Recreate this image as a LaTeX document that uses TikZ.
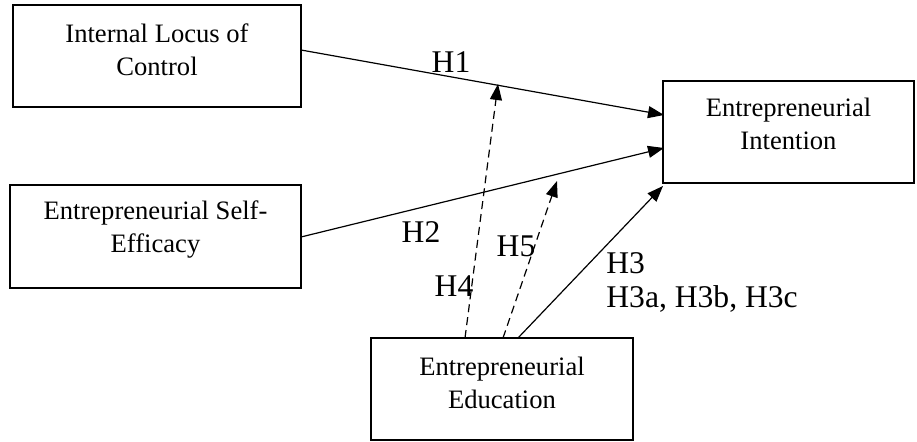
\documentclass[tikz,border=0pt]{standalone}
\usepackage{fontspec}
\setmainfont{Liberation Serif}
\usetikzlibrary{arrows.meta}
\begin{document}
\begin{tikzpicture}[x=0.5pt,y=-0.5pt,
  box/.style={draw,line width=1.2pt,inner sep=0pt},
  boxtext/.style={align=center,font=\fontsize{13.3}{16.5}\selectfont,inner sep=0pt},
  hlabel/.style={font=\fontsize{15.8}{18.5}\selectfont,inner sep=0pt,align=left},
  arr/.style={line width=0.6pt,-{Triangle[length=8pt,width=6pt]}},
  darr/.style={arr,dash pattern=on 4pt off 2.5pt}]
\useasboundingbox (0,0) rectangle (917,442);
% boxes
\node[box,minimum width=144pt,minimum height=51pt] (ilc) at (157,56) {};
\node[box,minimum width=145.5pt,minimum height=51.5pt] (ese) at (155.5,236.5) {};
\node[box,minimum width=125.5pt,minimum height=51pt] (ei) at (788.5,132) {};
\node[box,minimum width=131pt,minimum height=51pt] (ee) at (502,389) {};
\node[boxtext] (ilct) at ([yshift=3pt]ilc.center) {Internal Locus of\\Control};
\node[boxtext] (eset) at ([yshift=3.5pt]ese.center) {Entrepreneurial Self-\\Efficacy};
\node[boxtext] (eit) at ([yshift=4pt]ei.center) {Entrepreneurial\\Intention};
\node[boxtext] (eet) at ([yshift=3pt]ee.center) {Entrepreneurial\\Education};
% connector end points
\coordinate (h1s) at (301,50);
\coordinate (h1e) at (664,115);
\coordinate (h2s) at (301,237);
\coordinate (h2e) at (664,148);
\coordinate (h3s) at (518,338);
\coordinate (h3e) at (663,186);
\coordinate (h4s) at (465,338);
\coordinate (h4e) at (498,84);
\coordinate (h5s) at (503,338);
\coordinate (h5e) at (557,181);
\draw[arr] (h1s) -- (h1e);
\draw[arr] (h2s) -- (h2e);
\draw[arr] (h3s) -- (h3e);
\draw[darr] (h4s) -- (h4e);
\draw[darr] (h5s) -- (h5e);
% labels
\node[hlabel] (l1) at (451,62) {H1};
\node[hlabel] (l2) at (421,232) {H2};
\node[hlabel] (l4) at (454,286) {H4};
\node[hlabel] (l5) at (516,246) {H5};
\node[hlabel,anchor=west] (l3) at (606,263) {H3};
\node[hlabel,anchor=west] (l3b) at (606,299) {H3a, H3b, H3c};
\end{tikzpicture}
\end{document}
